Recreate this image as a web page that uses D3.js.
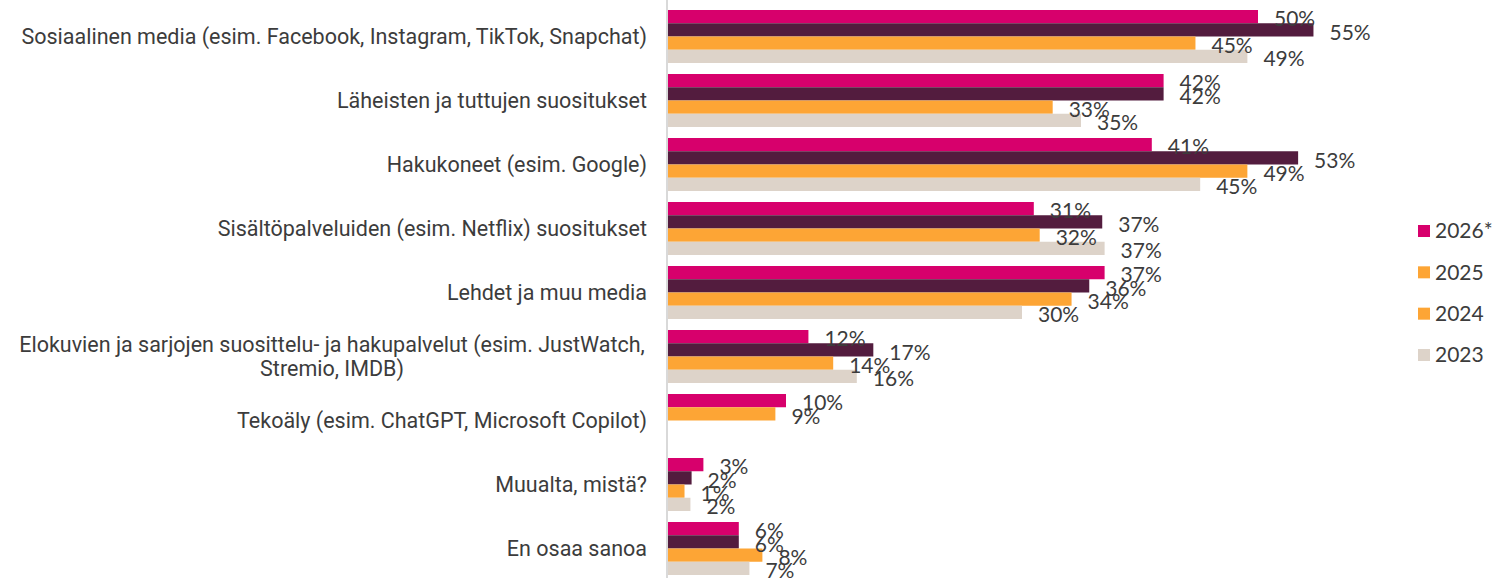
<!DOCTYPE html>
<html>
<head>
<meta charset="utf-8">
<script src="https://cdn.jsdelivr.net/npm/d3@7"></script>
<style>
  body { margin: 0; background: #fff; }
  svg { display: block; }
</style>
</head>
<body>
<script>
// Categories, top to bottom
const categories = [
  "Sosiaalinen media (esim. Facebook, Instagram, TikTok, Snapchat)",
  "Läheisten ja tuttujen suositukset",
  "Hakukoneet (esim. Google)",
  "Sisältöpalveluiden (esim. Netflix) suositukset",
  "Lehdet ja muu media",
  "Elokuvien ja sarjojen suosittelu- ja hakupalvelut (esim. JustWatch,|Stremio, IMDB)",
  "Tekoäly (esim. ChatGPT, Microsoft Copilot)",
  "Muualta, mistä?",
  "En osaa sanoa"
];

const years = ["2026*", "2025", "2024", "2023"];

// Values in % (null = not asked that year)
const v2026 = [50.0, 42.0, 41.0, 31.0, 37.0, 11.9, 10.0, 3.0, 6.0];
const v2025 = [54.7, 42.0, 53.4, 36.8, 35.7, 17.4, 9.1, 2.0, 6.0];
const v2024 = [44.7, 32.6, 49.1, 31.5, 34.2, 14.0, null, 1.4, 8.0];
const v2023 = [49.1, 35.0, 45.1, 37.0, 30.0, 16.0, null, 1.9, 6.9];

const seriesValues = [v2026, v2025, v2024, v2023];
const seriesColors = ["#d7006c", "#531c3e", "#fda535", "#ddd3c9"];
const legendColors = ["#d7006c", "#fda535", "#fda535", "#ddd3c9"];

const width = 1503, height = 578;

// Flatten into rows for drawing
let rows = [];
categories.forEach((c, i) => {
  years.forEach((y, j) => {
    let v = seriesValues[j][i];
    if (v == null) return;
    let color = seriesColors[j];
    // the single 2025 bar in the Tekoäly row is shown in orange
    if (i === 6 && j === 1) color = seriesColors[2];
    rows.push({cat: c, year: y, value: v, color: color});
  });
});

const x = d3.scaleLinear()
    .domain([0, 60])
    .range([668, 668 + 60 * 11.8]);

const y0 = d3.scaleBand()
    .domain(categories)
    .range([4.5, 580.5])
    .paddingInner(0.172)
    .paddingOuter(0.086);

const y1 = d3.scaleBand()
    .domain(years)
    .range([0, y0.bandwidth()]);

const svg = d3.select("body").append("svg")
    .attr("width", width)
    .attr("height", height);

// Axis line
svg.append("line")
    .attr("x1", x(0) - 1).attr("x2", x(0) - 1)
    .attr("y1", 0).attr("y2", height)
    .attr("stroke", "#d9d9d9")
    .attr("stroke-width", 2);

// Bars
svg.append("g")
  .selectAll("rect")
  .data(rows)
  .join("rect")
    .attr("x", x(0))
    .attr("y", d => y0(d.cat) + y1(d.year))
    .attr("width", d => x(d.value) - x(0))
    .attr("height", y1.bandwidth())
    .attr("fill", d => d.color);

// Value labels
svg.append("g")
    .style("font", "21px Lato, sans-serif")
    .attr("fill", "#3c3c3c")
  .selectAll("text")
  .data(rows)
  .join("text")
    .attr("x", d => x(d.value) + 16)
    .attr("y", d => y0(d.cat) + y1(d.year) + y1.bandwidth() / 2 + 2.5)
    .attr("dy", "0.35em")
    .text(d => Math.round(d.value) + "%");

// Category labels
const catG = svg.append("g")
    .style("font", "21.5px Roboto, sans-serif")
    .attr("fill", "#3c3c3c");

categories.forEach(c => {
  let lines = c.split("|");
  let cy = y0(c) + y0.bandwidth() / 2;
  if (lines.length === 1) {
    catG.append("text")
        .attr("x", 647)
        .attr("y", cy)
        .attr("dy", "0.35em")
        .attr("text-anchor", "end")
        .text(lines[0]);
  } else {
    let t = catG.append("text")
        .attr("text-anchor", "middle");
    lines.forEach((l, k) => {
      t.append("tspan")
          .attr("x", 332)
          .attr("y", cy + (k - (lines.length - 1) / 2) * 24)
          .attr("dy", "0.35em")
          .text(l);
    });
  }
});

// Legend
const ly = d3.scalePoint()
    .domain(years)
    .range([231, 355]);

const legend = svg.append("g")
    .style("font", "21px Lato, sans-serif")
    .attr("fill", "#3c3c3c")
  .selectAll("g")
  .data(years)
  .join("g")
    .attr("transform", d => `translate(1418,${ly(d)})`);

legend.append("rect")
    .attr("y", -6)
    .attr("width", 12)
    .attr("height", 12)
    .attr("fill", (d, i) => legendColors[i]);

legend.append("text")
    .attr("x", 17)
    .attr("dy", "0.35em")
    .text(d => d);
</script>
</body>
</html>
